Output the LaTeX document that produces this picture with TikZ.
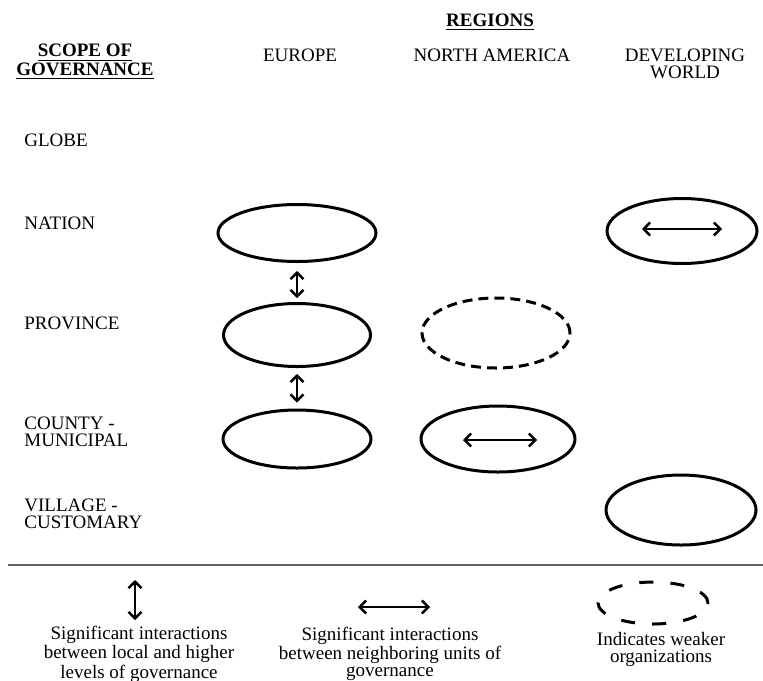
\documentclass[tikz,border=0pt]{standalone}
\usepackage{fontspec}
\setmainfont{Liberation Serif}
\usetikzlibrary{arrows.meta,shapes.geometric}
\begin{document}
\begin{tikzpicture}[x=0.5pt,y=-0.5pt,
 txt/.style={font=\fontsize{9.5}{8.5}\selectfont, inner sep=0pt},
 lbl/.style={txt, align=left, anchor=west},
 hdr/.style={txt, align=center},
 unit/.style={ellipse, draw, line width=1.5pt, inner sep=0pt},
 weak/.style={unit, dash pattern=on 5pt off 3pt},
 dbl/.style={{Straight Barb[length=3.2pt,width=6.5pt]}-{Straight Barb[length=3.2pt,width=6.5pt]}, line width=1.25pt}
]
\useasboundingbox[fill=white] (0,0) rectangle (763,680);

% headers
\node[hdr, font=\fontsize{9.5}{9}\selectfont\bfseries] (regions) at (490,22) {\underline{REGIONS}};
\node[hdr, font=\fontsize{9.5}{9.2}\selectfont\bfseries] (scope) at (85,62) {\underline{SCOPE OF}\\\underline{GOVERNANCE}};
\node[hdr] (europe) at (300,55) {EUROPE};
\node[hdr] (namerica) at (492,55) {NORTH AMERICA};
\node[hdr] (devworld) at (685,64) {DEVELOPING\\WORLD};

% row labels
\node[lbl] (globe) at (24,140) {GLOBE};
\node[lbl] (nation) at (24,223) {NATION};
\node[lbl] (province) at (24,323) {PROVINCE};
\node[lbl] (county) at (24,432) {COUNTY -\\MUNICIPAL};
\node[lbl] (village) at (24,514) {VILLAGE -\\CUSTOMARY};

% units
\node[unit, minimum width=79pt, minimum height=28.5pt] (eun) at (297,233) {};
\node[unit, minimum width=73.5pt, minimum height=31.5pt] (eup) at (297,335) {};
\node[unit, minimum width=74pt, minimum height=29pt] (euc) at (297,439) {};
\node[weak, minimum width=74pt, minimum height=35pt] (nap) at (496,333) {};
\node[unit, minimum width=77pt, minimum height=33pt] (nac) at (498,439) {};
\node[unit, minimum width=75pt, minimum height=32.5pt] (dwn) at (682,231) {};
\node[unit, minimum width=75pt, minimum height=35pt] (dwv) at (681,510) {};

% vertical interactions
\draw[dbl, shorten <=4pt, shorten >=2pt] (eun.south) -- (eup.north);
\draw[dbl, shorten <=3pt, shorten >=3pt] (eup.south) -- (euc.north);

% horizontal interactions
\coordinate (nacl) at (463,440);
\coordinate (nacr) at (537,440);
\draw[dbl] (nacl) -- (nacr);
\coordinate (dwnl) at (642,229);
\coordinate (dwnr) at (722,229);
\draw[dbl] (dwnl) -- (dwnr);

% separator
\coordinate (sepl) at (8,565);
\coordinate (sepr) at (763,565);
\draw[line width=0.8pt, black!60] (sepl) -- (sepr);

% legend
\coordinate (lvt) at (135,580);
\coordinate (lvb) at (135,620);
\draw[dbl] (lvt) -- (lvb);
\coordinate (lhl) at (358,607);
\coordinate (lhr) at (430,607);
\draw[dbl] (lhl) -- (lhr);
\node[unit, dash pattern=on 7pt off 8.6pt, minimum width=55pt, minimum height=21pt] (lweak) at (653,603) {};

\node[hdr] (t1) at (139,654) {Significant interactions\\between local and higher\\levels of governance};
\node[hdr] (t2) at (390,654) {Significant interactions\\between neighboring units of\\governance};
\node[hdr] (t3) at (661,649) {Indicates weaker\\organizations};
\end{tikzpicture}
\end{document}
